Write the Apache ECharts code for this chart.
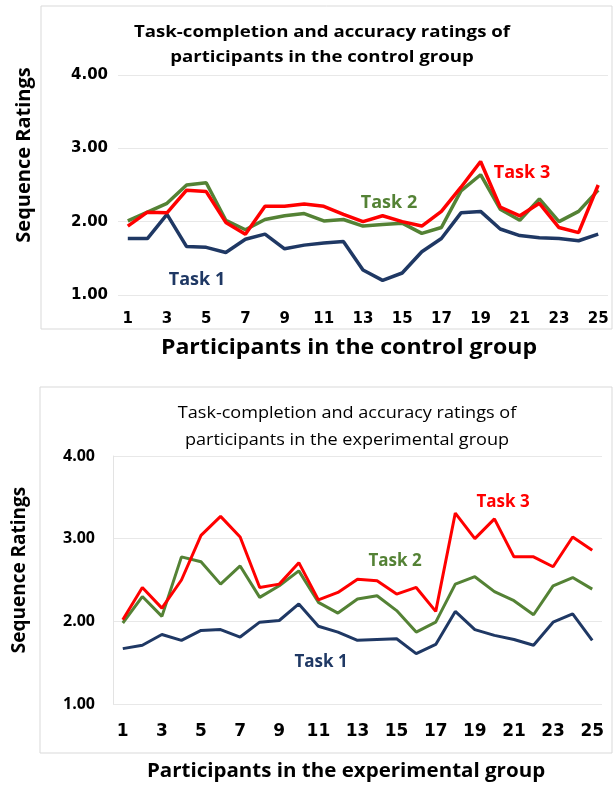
<!DOCTYPE html>
<html>
<head>
<meta charset="utf-8">
<script src="https://cdn.jsdelivr.net/npm/echarts@6/dist/echarts.min.js"></script>
<style>
  html, body { margin: 0; padding: 0; background: #fff; }
  #main { width: 615px; height: 787px; }
</style>
</head>
<body>
<div id="main"></div>
<script>
var participants = [];
for (var i = 1; i <= 25; i++) participants.push(String(i));

var yTicks = ['1.00', '2.00', '3.00', '4.00'];

// control group
var ctrlTask1 = [1.77, 1.77, 2.10, 1.66, 1.65, 1.58, 1.76, 1.83, 1.63, 1.68, 1.71, 1.73, 1.34,
                 1.20, 1.30, 1.59, 1.77, 2.12, 2.14, 1.90, 1.81, 1.78, 1.77, 1.74, 1.83];
var ctrlTask2 = [2.01, 2.13, 2.25, 2.50, 2.53, 2.02, 1.89, 2.03, 2.08, 2.11, 2.01, 2.03, 1.94,
                 1.96, 1.98, 1.84, 1.92, 2.42, 2.64, 2.17, 2.02, 2.31, 2.00, 2.14, 2.43];
var ctrlTask3 = [1.94, 2.13, 2.12, 2.43, 2.41, 1.99, 1.83, 2.21, 2.21, 2.24, 2.21, 2.10, 2.00,
                 2.08, 2.00, 1.94, 2.14, 2.47, 2.82, 2.20, 2.08, 2.25, 1.92, 1.85, 2.50];

// experimental group
var expTask1 = [1.67, 1.71, 1.84, 1.77, 1.89, 1.90, 1.81, 1.99, 2.01, 2.21, 1.94, 1.87, 1.77,
                1.78, 1.79, 1.61, 1.72, 2.12, 1.90, 1.83, 1.78, 1.71, 1.99, 2.09, 1.77];
var expTask2 = [1.98, 2.30, 2.06, 2.78, 2.72, 2.45, 2.67, 2.29, 2.43, 2.61, 2.23, 2.10, 2.27,
                2.31, 2.13, 1.87, 1.99, 2.45, 2.54, 2.36, 2.25, 2.08, 2.43, 2.53, 2.39];
var expTask3 = [2.02, 2.41, 2.16, 2.50, 3.04, 3.27, 3.02, 2.41, 2.45, 2.71, 2.26, 2.35, 2.51,
                2.49, 2.33, 2.41, 2.12, 3.31, 3.00, 3.24, 2.78, 2.78, 2.66, 3.02, 2.86];

var navy = '#1f3864';
var green = '#548235';
var red = '#ff0000';
var font = '"Open Sans", sans-serif';
var wide = '"DejaVu Sans", sans-serif';

var dom = document.getElementById('main');
var myChart = echarts.init(dom);

function xAx(idx, margin, fam, size) {
    return {
        type: 'category',
        gridIndex: idx,
        data: participants,
        axisLine: { show: false },
        axisTick: { show: false },
        axisLabel: {
            interval: 1,
            margin: margin,
            color: '#000',
            fontFamily: fam,
            fontWeight: 'bold',
            fontSize: size
        }
    };
}

function yAx(idx, margin, showLine, fam, size) {
    return {
        type: 'value',
        gridIndex: idx,
        min: 1,
        max: 4,
        interval: 1,
        axisLine: { show: showLine, lineStyle: { color: '#e3e3e3' } },
        axisTick: { show: false },
        splitLine: { lineStyle: { color: '#e8e8e8', width: 1 } },
        axisLabel: {
            margin: margin,
            color: '#000',
            fontFamily: fam,
            fontWeight: 'bold',
            fontSize: size,
            formatter: function (v) { return yTicks[Math.round(v) - 1]; }
        }
    };
}

function line(name, data, color, idx, w) {
    return {
        name: name,
        type: 'line',
        xAxisIndex: idx,
        yAxisIndex: idx,
        data: data,
        symbol: 'none',
        lineStyle: { color: color, width: w },
        itemStyle: { color: color },
        animation: false
    };
}

// text helper, sx stretches the text horizontally
function txt(x, y, s, color, size, weight, rot, sx) {
    return {
        type: 'text',
        x: x,
        y: y,
        rotation: rot || 0,
        scaleX: sx || 1,
        style: {
            text: s,
            fill: color,
            font: weight + ' ' + size + 'px ' + font,
            textAlign: 'center',
            textVerticalAlign: 'middle'
        }
    };
}

var option = {
    backgroundColor: '#fff',
    animation: false,
    grid: [
        { left: 118, top: 75, width: 490, height: 220 },
        { left: 113, top: 456, width: 489, height: 248 }
    ],
    xAxis: [xAx(0, 17, wide, 15), xAx(1, 19, wide, 17)],
    yAxis: [yAx(0, 10, false, wide, 15), yAx(1, 18, true, font, 16)],
    series: [
        line('Task 1', ctrlTask1, navy, 0, 3.5),
        line('Task 2', ctrlTask2, green, 0, 3.5),
        line('Task 3', ctrlTask3, red, 0, 3.5),
        line('Task 1', expTask1, navy, 1, 3),
        line('Task 2', expTask2, green, 1, 3),
        line('Task 3', expTask3, red, 1, 3)
    ],
    graphic: [
        {
            type: 'rect', shape: { x: 41, y: 6, width: 571, height: 323 },
            style: { fill: 'none', stroke: '#d9d9d9', lineWidth: 1 }, z: -1
        },
        {
            type: 'rect', shape: { x: 40, y: 387, width: 572, height: 366 },
            style: { fill: 'none', stroke: '#d9d9d9', lineWidth: 1 }, z: -1
        },
        txt(322, 32, 'Task-completion and accuracy ratings of', '#000', 16.5, 'bold', 0, 1.13),
        txt(322, 57, 'participants in the control group', '#000', 16.5, 'bold', 0, 1.13),
        txt(347, 413, 'Task-completion and accuracy ratings of', '#000', 16, 'normal', 0, 1.13),
        txt(347, 440, 'participants in the experimental group', '#000', 16, 'normal', 0, 1.13),
        txt(24, 155, 'Sequence Ratings', '#000', 20, 'bold', Math.PI / 2),
        txt(349, 348, 'Participants in the control group', '#000', 21, 'bold', 0, 1.1),
        txt(20, 570, 'Sequence Ratings', '#000', 19, 'bold', Math.PI / 2),
        txt(346, 772, 'Participants in the experimental group', '#000', 19, 'bold', 0, 1.08),
        txt(522, 173, 'Task 3', red, 18, 'bold'),
        txt(389, 203, 'Task 2', green, 18, 'bold'),
        txt(197, 280, 'Task 1', navy, 18, 'bold'),
        txt(503, 502, 'Task 3', red, 17, 'bold'),
        txt(395, 561, 'Task 2', green, 17, 'bold'),
        txt(321, 662, 'Task 1', navy, 17, 'bold')
    ]
};

if (option && typeof option === "object") {
    myChart.setOption(option, true);
}
</script>
</body>
</html>
